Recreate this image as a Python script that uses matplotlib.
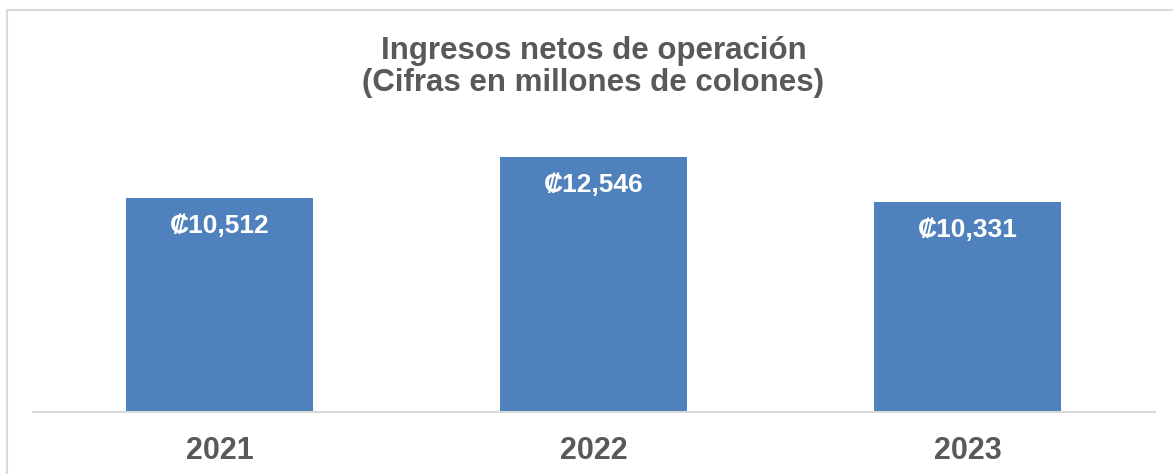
import matplotlib
matplotlib.use('Agg')
import matplotlib.pyplot as plt
from matplotlib.lines import Line2D

# data
years = ['2021', '2022', '2023']
ingresos = [10512, 12546, 10331]

W, H = 1173, 474
fam = ['Liberation Sans', 'DejaVu Sans']
gris = '#595959'
azul = '#4F81BD'

plt.rcParams['font.family'] = fam

fig = plt.figure(figsize=(W / 100, H / 100), dpi=100)

# marco gris del grafico
fig.add_artist(Line2D([7 / W, 1], [1 - 10 / H, 1 - 10 / H], transform=fig.transFigure,
                      color='#d9d9d9', lw=1.5))
fig.add_artist(Line2D([7 / W, 7 / W], [0, 1 - 10 / H], transform=fig.transFigure,
                      color='#d9d9d9', lw=1.5))

ax = fig.add_axes([32.5 / W, 62 / H, (1154.5 - 32.5) / W, (412 - 140) / H])
x = range(len(years))
ax.bar(x, ingresos, width=0.5, color=azul)
ax.set_xlim(-0.5, 2.5)
ax.set_ylim(0, 12546 * 272 / 255)

for s in ['top', 'right', 'left']:
    ax.spines[s].set_visible(False)
ax.spines['bottom'].set_color('#d9d9d9')
ax.spines['bottom'].set_linewidth(1.5)
ax.set_yticks([])
ax.set_xticks(list(x))
ax.set_xticklabels(years, fontsize=22, fontweight='bold', color=gris)
ax.tick_params(axis='x', length=0, pad=17)

for i, v in enumerate(ingresos):
    ax.annotate('\u20a1{:,}'.format(v), (i, v), xytext=(0, -11.5), textcoords='offset points',
                ha='center', va='top', fontsize=19, fontweight='bold', color='white')

fig.text(593.5 / W, 1 - 36 / H, 'Ingresos netos de operación\n(Cifras en millones de colones)',
         ha='center', va='top', fontsize=22.5, fontweight='bold', color=gris, linespacing=1.1)

fig.savefig('out.png', dpi=100)
